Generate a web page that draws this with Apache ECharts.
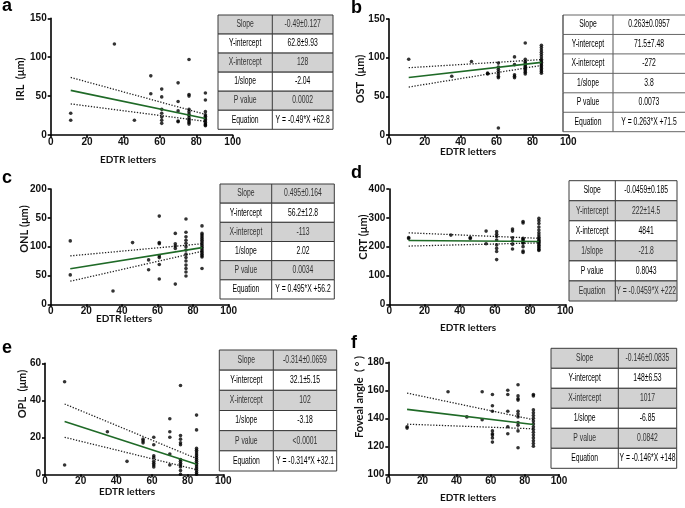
<!DOCTYPE html>
<html><head><meta charset="utf-8">
<script src="https://cdn.jsdelivr.net/npm/echarts@6/dist/echarts.min.js"></script>
<style>html,body{margin:0;padding:0;background:#fff}#c{width:685px;height:508px}</style>
</head><body><div id="c"></div>
<script>
// ---------- data ----------
const xTicks = ['0','20','40','60','80','100'];
const rowLabels = ['Slope','Y-intercept','X-intercept','1/slope','P value','Equation'];

const irlPoints = [[11,28],[11,19],[35,117],[46,19],[55,76],[55,53],
 [61,59],[61,49],[61,33],[61,28],[61,23],[61,19],[61,15],
 [70,67],[70,43],[70,31],[70,18],[70,17],
 [76,97],[76,52],[76,50],[76,33],[76,30],[76,27],[76,25],[76,22],[76,20],[76,18],[76,16],[76,14],
 [85,54],[85,45],[85,30],[85,26],[85,24],[85,22],[85,20],[85,18],[85,16],[85,14],[85,13],[85,12]];
const irlFit = [[11,57.4],[85,21.2]];
const irlUpper = [[11,74],[85,26.5]];
const irlLower = [[11,40],[85,17.5]];
const irlTicks = ['0','50','100','150'];
const irlStats = ['-0.49±0.127','62.8±9.93','128','-2.04','0.0002','Y = -0.49*X +62.8'];

const ostPoints = [[11,98],[35,76],[46,95],[55,80],[55,79],
 [61,93],[61,88],[61,85],[61,82],[61,79],[61,76],[61,74],[61,9],
 [70,101],[70,91],[70,78],[70,76],[70,74],
 [76,119],[76,98],[76,95],[76,93],[76,91],[76,89],[76,87],[76,85],[76,83],[76,81],[76,79],
 [85,116],[85,113],[85,110],[85,107],[85,104],[85,101],[85,98],[85,96],[85,94],[85,92],[85,90],[85,88],[85,86],[85,84],[85,82],[85,80]];
const ostFit = [[11,74.4],[85,93.9]];
const ostUpper = [[11,87],[85,97.5]];
const ostLower = [[11,62],[85,90]];
const ostTicks = ['0','50','100','150'];
const ostStats = ['0.263±0.0957','71.5±7.48','-272','3.8','0.0073','Y = 0.263*X +71.5'];

const onlPoints = [[11,110],[11,51],[35,23],[46,107],[55,77],[55,60],
 [61,153],[61,107],[61,105],[61,84],[61,81],[61,69],[61,44],
 [70,123],[70,105],[70,101],[70,97],[70,35],
 [76,148],[76,125],[76,117],[76,111],[76,106],[76,100],[76,94],[76,87],[76,81],[76,75],[76,68],[76,62],[76,56],[76,49],
 [85,136],[85,123],[85,120],[85,117],[85,114],[85,111],[85,108],[85,105],[85,102],[85,99],[85,96],[85,93],[85,90],[85,87],[85,84],[85,82],[85,62]];
const onlFit = [[11,61.6],[85,98.3]];
const onlUpper = [[11,84],[85,105]];
const onlLower = [[11,40],[85,92]];
const onlTicks = ['0','50','100','50','200'];
const onlStats = ['0.495±0.164','56.2±12.8','-113','2.02','0.0034','Y = 0.495*X +56.2'];

const crtPoints = [[11,232],[11,228],[35,240],[46,232],[46,228],[55,254],[55,210],
 [61,252],[61,243],[61,235],[61,223],[61,206],[61,194],[61,183],[61,155],
 [70,261],[70,254],[70,231],[70,220],[70,208],[70,192],
 [76,287],[76,282],[76,229],[76,225],[76,220],[76,215],[76,212],[76,200],[76,185],[76,180],
 [85,298],[85,290],[85,280],[85,268],[85,258],[85,248],[85,240],[85,233],[85,227],[85,222],[85,218],[85,214],[85,210],[85,205],[85,200],[85,195],[85,190],[85,187]];
const crtFit = [[11,221.5],[85,218.1]];
const crtUpper = [[11,248],[85,229]];
const crtLower = [[11,202],[85,213]];
const crtTicks = ['0','100','200','300','400'];
const crtStats = ['-0.0459±0.185','222±14.5','4841','-21.8','0.8043','Y = -0.0459*X +222'];

const oplPoints = [[11,50],[11,5],[35,23],[46,7],[55,19],[55,18],[55,17],
 [61,20],[61,16],[61,10],[61,9],[61,7],[61,6],[61,5],[61,4],
 [70,30],[70,23],[70,20],[70,11],[70,5],
 [76,48],[76,21],[76,19],[76,17],[76,16],[76,8],[76,7],[76,6],[76,5],[76,4],[76,2],[76,0],
 [85,32],[85,24],[85,14],[85,13],[85,12],[85,11],[85,10],[85,9],[85,8],[85,7],[85,6],[85,5],[85,4],[85,3],[85,2],[85,1],[85,0]];
const oplFit = [[11,28.6],[85,5.4]];
const oplUpper = [[11,38],[85,8.5]];
const oplLower = [[11,20],[85,2.5]];
const oplTicks = ['0','20','40','60'];
const oplStats = ['-0.314±0.0659','32.1±5.15','102','-3.18','<0.0001','Y = -0.314*X +32.1'];

const favPoints = [[11,134],[11,133],[35,159],[46,141],[55,159],[55,139],
 [61,157],[61,149],[61,145],[61,131],[61,129],[61,128],[61,126],[61,123],
 [70,160],[70,157],[70,145],[70,134],[70,129],
 [76,164],[76,156],[76,154],[76,153],[76,145],[76,143],[76,141],[76,137],[76,135],[76,131],[76,119],
 [85,157],[85,156],[85,146],[85,144],[85,142],[85,140],[85,138],[85,136],[85,134],[85,132],[85,130],[85,128],[85,126],[85,124],[85,122],[85,120]];
const favFit = [[11,146.4],[85,135.6]];
const favUpper = [[11,158],[85,139]];
const favLower = [[11,135.8],[85,132.5]];
const favTicks = ['100','120','140','160','180'];
const favStats = ['-0.146±0.0835','148±6.53','1017','-6.85','0.0842','Y = -0.146*X +148'];

// ---------- panel setup ----------
const panels = [
 {letter:'a', pts:irlPoints, fit:irlFit, up:irlUpper, lo:irlLower, ticks:irlTicks, stats:irlStats, yName:'IRL  (μm)',
  ymin:0, ymax:150, ystep:50, grid:[50.7,18.3,182,116.7], letterPos:[2,15], yNamePos:[20,79], xNamePos:[128,160],
  table:{x:218,y:15,w:115,h:114.3,split:272.3,gray:[0,2,4]}},
 {letter:'b', pts:ostPoints, fit:ostFit, up:ostUpper, lo:ostLower, ticks:ostTicks, stats:ostStats, yName:'OST  (μm)',
  ymin:0, ymax:150, ystep:50, grid:[389,19,179.3,116], letterPos:[351,17], yNamePos:[360,79], xNamePos:[468,152],
  table:{x:563,y:15,w:122,h:116.7,split:613,gray:[],open:true}},
 {letter:'c', pts:onlPoints, fit:onlFit, up:onlUpper, lo:onlLower, ticks:onlTicks, stats:onlStats, yName:'ONL (μm)',
  ymin:0, ymax:200, ystep:50, grid:[50.7,189,178,115.3], letterPos:[2,187], yNamePos:[24,229], xNamePos:[124,319],
  table:{x:220,y:184,w:114.3,h:115,split:271.7,gray:[0,2,4]}},
 {letter:'d', pts:crtPoints, fit:crtFit, up:crtUpper, lo:crtLower, ticks:crtTicks, stats:crtStats, yName:'CRT (μm)',
  ymin:0, ymax:400, ystep:100, grid:[389.3,189,176,115.3], letterPos:[351,182], yNamePos:[363,237], xNamePos:[468,328],
  table:{x:569,y:180.7,w:108,h:120.3,split:615.3,gray:[1,3,5]}},
 {letter:'e', pts:oplPoints, fit:oplFit, up:oplUpper, lo:oplLower, ticks:oplTicks, stats:oplStats, yName:'OPL  (μm)',
  ymin:0, ymax:60, ystep:20, grid:[45,363.3,178.3,111], letterPos:[2,357], yNamePos:[22,394], xNamePos:[127,492],
  table:{x:219.3,y:350,w:117.4,h:121,split:273.3,gray:[0,2,4]}},
 {letter:'f', pts:favPoints, fit:favFit, up:favUpper, lo:favLower, ticks:favTicks, stats:favStats, yName:'Foveal angle  ( ° )',
  ymin:100, ymax:180, ystep:20, grid:[388.3,362.3,170.7,112], letterPos:[351,352], yNamePos:[359,397], xNamePos:[468,498],
  table:{x:551,y:348.3,w:125.7,h:120,split:618.3,gray:[0,2,4]}}
];

const grids = [], xAxes = [], yAxes = [], series = [], graphic = [];
const GREEN = '#1f6a27';
const TFONT = '10px "Liberation Sans", Arial, sans-serif';
const TSCALE = 0.68;

panels.forEach((p, i) => {
  grids.push({left:p.grid[0], top:p.grid[1], width:p.grid[2], height:p.grid[3], containLabel:false});
  const lab = {color:'#111', fontWeight:'bold', fontSize:10, fontFamily:'"Liberation Sans", Arial, sans-serif'};
  const axisCommon = {
    axisLine:{show:true, onZero:false, lineStyle:{color:'#000', width:1.6}},
    axisTick:{show:true, length:3, lineStyle:{color:'#000', width:1.6}},
    splitLine:{show:false}
  };
  xAxes.push(Object.assign({}, axisCommon, {type:'value', gridIndex:i, min:0, max:100, interval:20,
    axisLabel:Object.assign({}, lab, {margin:2, formatter:(v, k) => xTicks[k]})}));
  const tk = p.ticks;
  yAxes.push(Object.assign({}, axisCommon, {type:'value', gridIndex:i, min:p.ymin, max:p.ymax, interval:p.ystep,
    axisLabel:Object.assign({}, lab, {margin:4, formatter:(v, k) => tk[k]})}));
  series.push({type:'line', xAxisIndex:i, yAxisIndex:i, data:p.up, symbol:'none', silent:true,
    lineStyle:{color:'#222', width:1.3, type:[1.3,1.6]}, z:2});
  series.push({type:'line', xAxisIndex:i, yAxisIndex:i, data:p.lo, symbol:'none', silent:true,
    lineStyle:{color:'#222', width:1.3, type:[1.3,1.6]}, z:2});
  series.push({type:'scatter', xAxisIndex:i, yAxisIndex:i, data:p.pts, symbol:'circle', symbolSize:3.6,
    itemStyle:{color:'#000'}, z:3});
  series.push({type:'line', xAxisIndex:i, yAxisIndex:i, data:p.fit, symbol:'none', silent:true,
    lineStyle:{color:GREEN, width:1.6}, z:4});

  graphic.push({type:'text', x:p.letterPos[0], y:p.letterPos[1], style:{text:p.letter, font:'bold 18px "Liberation Sans", Arial, sans-serif', fill:'#000', verticalAlign:'bottom', align:'left'}});
  graphic.push({type:'text', x:p.xNamePos[0], y:p.xNamePos[1], style:{text:'EDTR letters', font:'bold 10px Lato, "Liberation Sans", sans-serif', fill:'#111', align:'center', verticalAlign:'middle'}});
  graphic.push({type:'text', x:p.yNamePos[0], y:p.yNamePos[1], rotation:Math.PI/2, style:{text:p.yName, font:'bold 11px Lato, "Liberation Sans", sans-serif', fill:'#111', align:'center', verticalAlign:'middle'}});

  const t = p.table, rh = t.h / 6;
  const children = [];
  for (let r = 0; r < 6; r++) {
    const y0 = t.y + r * rh;
    const isGray = t.gray.indexOf(r) >= 0;
    if (!t.open) {
      children.push({type:'rect', shape:{x:t.x, y:y0, width:t.w, height:rh}, style:{fill:isGray ? '#d2d2d2' : '#fff', stroke:'#3a3a3a', lineWidth:1}});
      children.push({type:'line', shape:{x1:t.split, y1:y0, x2:t.split, y2:y0+rh}, style:{stroke:'#3a3a3a', lineWidth:1}});
    } else {
      children.push({type:'rect', shape:{x:t.x, y:y0, width:t.w, height:rh}, style:{fill:'#fff'}});
      children.push({type:'line', shape:{x1:t.x, y1:y0, x2:t.x+t.w, y2:y0}, style:{stroke:'#666', lineWidth:1}});
      children.push({type:'line', shape:{x1:t.split, y1:y0, x2:t.split, y2:y0+rh}, style:{stroke:'#555', lineWidth:1}});
      children.push({type:'line', shape:{x1:t.x, y1:y0, x2:t.x, y2:y0+rh}, style:{stroke:'#333', lineWidth:1.2}});
    }
    const col = isGray ? '#333' : '#000';
    children.push({type:'text', x:(t.x + t.split)/2, y:y0 + rh/2, scaleX:TSCALE, style:{text:rowLabels[r], font:TFONT, fill:col, align:'center', verticalAlign:'middle'}});
    children.push({type:'text', x:(t.split + t.x + t.w)/2, y:y0 + rh/2, scaleX:TSCALE, style:{text:p.stats[r], font:TFONT, fill:col, align:'center', verticalAlign:'middle'}});
  }
  if (t.open) children.push({type:'line', shape:{x1:t.x, y1:t.y+t.h, x2:t.x+t.w, y2:t.y+t.h}, style:{stroke:'#666', lineWidth:1}});
  graphic.push({type:'group', z:100, children:children});
});

const chart = echarts.init(document.getElementById('c'), null, {renderer:'canvas'});
chart.setOption({
  animation:false,
  backgroundColor:'#fff',
  grid:grids, xAxis:xAxes, yAxis:yAxes, series:series, graphic:graphic
});
</script></body></html>
